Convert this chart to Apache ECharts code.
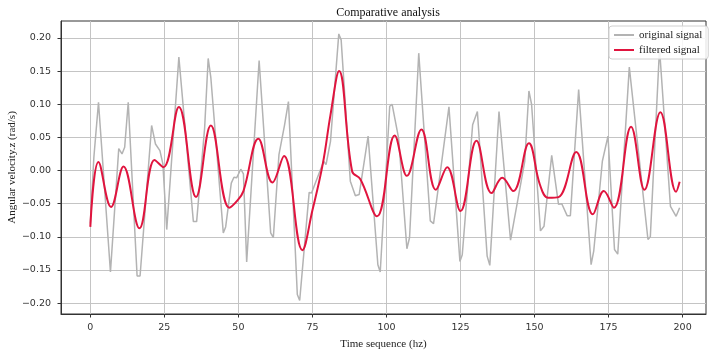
<!DOCTYPE html>
<html>
<head>
<meta charset="utf-8">
<script src="https://cdn.jsdelivr.net/npm/echarts@6/dist/echarts.min.js"></script>
<style>
html,body{margin:0;padding:0;background:#fff;}
#chart{width:714px;height:352px;}
</style>
</head>
<body>
<div id="chart"></div>
<script>
// Tick labels
const xTicks = [0, 25, 50, 75, 100, 125, 150, 175, 200];
const yTicks = [-0.20, -0.15, -0.10, -0.05, 0.00, 0.05, 0.10, 0.15, 0.20];

// Original signal (vertices)
const originalX = [0, 1.2, 2.76, 6.8, 9.6, 10.7, 11.6, 12.8, 15.8, 16.8, 20.7, 22.0, 23.5, 24.5, 25.8, 29.9, 34.8, 35.9, 38.6, 39.8, 40.7, 44.9, 45.7, 47.6, 48.5, 49.4, 50.8, 51.7, 52.8, 57.0, 60.9, 61.8, 63.7, 65.6, 66.9, 69.9, 70.7, 73.9, 74.7, 78.8, 79.6, 81.1, 83.9, 84.7, 87.8, 89.5, 90.8, 93.8, 97.1, 97.9, 101.1, 101.9, 104.1, 106.9, 107.8, 110.9, 114.8, 115.9, 121.1, 124.8, 125.6, 129.1, 130.7, 134.0, 134.9, 138.0, 141.9, 146.7, 148.1, 149.0, 152.0, 153.2, 155.8, 158.1, 159.2, 161.0, 162.1, 164.9, 169.1, 170.0, 172.9, 174.8, 177.0, 178.1, 182.0, 188.3, 189.1, 192.2, 195.9, 197.8, 199.0];
const originalY = [-0.080, 0.020, 0.103, -0.153, 0.033, 0.025, 0.035, 0.103, -0.159, -0.159, 0.068, 0.040, 0.030, 0.010, -0.089, 0.171, -0.077, -0.077, 0.064, 0.169, 0.140, -0.094, -0.085, -0.019, -0.010, -0.011, 0.002, -0.005, -0.138, 0.166, -0.094, -0.101, 0.024, 0.069, 0.104, -0.187, -0.196, -0.033, -0.034, 0.014, 0.009, 0.044, 0.206, 0.197, -0.016, -0.038, -0.036, 0.052, -0.142, -0.153, 0.097, 0.100, 0.049, -0.118, -0.101, 0.177, -0.076, -0.080, 0.096, -0.137, -0.127, 0.069, 0.089, -0.129, -0.143, 0.089, -0.105, 0.014, 0.120, 0.100, -0.091, -0.084, 0.023, -0.051, -0.050, -0.068, -0.068, 0.122, -0.142, -0.121, 0.014, 0.052, -0.119, -0.126, 0.156, -0.104, -0.100, 0.184, -0.054, -0.069, -0.056];

// Filtered signal
const filteredX = [0, 2.75, 7.0, 11.2, 16.6, 21.7, 24.7, 29.9, 35.7, 40.7, 46.9, 49.7, 51.7, 56.75, 61.5, 65.4, 71.6, 75, 78.5, 81.1, 84.0, 88.4, 91.2, 96.8, 102.8, 106.9, 111.8, 116.7, 120.5, 125.0, 130.4, 135.5, 139.1, 142.8, 148.1, 151.8, 154.6, 158.1, 164.1, 169.7, 173.4, 176.8, 182.6, 187.1, 192.5, 197.8, 199.0];
const filteredY = [-0.085, 0.013, -0.055, 0.006, -0.087, 0.016, 0.005, 0.096, -0.040, 0.068, -0.056, -0.045, -0.031, 0.048, -0.018, 0.022, -0.120, -0.060, 0.010, 0.084, 0.150, -0.001, -0.013, -0.069, 0.053, -0.008, 0.062, -0.029, 0.005, -0.061, 0.045, -0.034, -0.011, -0.031, 0.041, -0.021, -0.041, -0.040, 0.028, -0.066, -0.031, -0.056, 0.066, -0.029, 0.088, -0.032, -0.017];

const originalData = originalX.map((x, i) => [x, originalY[i]]);
const filteredData = filteredX.map((x, i) => [x, filteredY[i]]);

const serif = '"Liberation Serif", "DejaVu Serif", serif';
const sans = '"DejaVu Sans", sans-serif';

const chart = echarts.init(document.getElementById('chart'), null, {renderer: 'canvas'});
chart.setOption({
  animation: false,
  backgroundColor: '#fff',
  title: {
    text: 'Comparative analysis',
    left: 383, top: 2, textAlign: 'center',
    textStyle: {fontFamily: serif, fontSize: 12, fontWeight: 'normal', color: '#111'}
  },
  grid: {
    left: 61, right: 8, top: 21, bottom: 38,
    containLabel: false, outerBoundsMode: 'none',
    show: true, borderColor: '#333', borderWidth: 1, backgroundColor: 'transparent'
  },
  legend: {
    left: 609, top: 26, orient: 'vertical',
    icon: 'rect', itemWidth: 20, itemHeight: 2, itemGap: 3,
    padding: [3, 6, 3, 5],
    backgroundColor: 'rgba(255,255,255,0.85)',
    borderColor: '#d0d0d0', borderWidth: 1, borderRadius: 3,
    textStyle: {fontFamily: serif, fontSize: 11, color: '#222', lineHeight: 12},
    data: ['original signal', 'filtered signal']
  },
  xAxis: {
    type: 'value', min: -9.9, max: 207.9,
    name: 'Time sequence (hz)', nameLocation: 'middle', nameGap: 25, nameMoveOverlap: false,
    nameTextStyle: {fontFamily: serif, fontSize: 11, color: '#222'},
    axisLine: {show: true, onZero: false, lineStyle: {color: '#333', width: 1}},
    axisTick: {show: true, length: 3.5, customValues: xTicks, lineStyle: {color: '#333'}},
    axisLabel: {customValues: xTicks, fontFamily: sans, fontSize: 9.5, color: '#333', margin: 9},
    splitLine: {show: true, lineStyle: {color: '#c4c4c4', width: 1}}
  },
  yAxis: {
    type: 'value', min: -0.2163, max: 0.2255,
    name: 'Angular velocity.z (rad/s)', nameLocation: 'middle', nameGap: 43, nameMoveOverlap: false,
    nameTextStyle: {fontFamily: serif, fontSize: 11, color: '#222'},
    axisLine: {show: true, onZero: false, lineStyle: {color: '#333', width: 1}},
    axisTick: {show: true, length: 3.5, customValues: yTicks, lineStyle: {color: '#333'}},
    axisLabel: {
      customValues: yTicks, fontFamily: sans, fontSize: 9.5, color: '#333', margin: 10,
      formatter: v => (v < -1e-9 ? '\u2212' : '') + Math.abs(v).toFixed(2)
    },
    splitLine: {show: true, lineStyle: {color: '#c4c4c4', width: 1}}
  },
  series: [
    {
      name: 'original signal', type: 'line', data: originalData,
      showSymbol: false, symbol: 'none',
      lineStyle: {color: '#b3b3b3', width: 1.5},
      itemStyle: {color: '#b3b3b3'}, z: 2
    },
    {
      name: 'filtered signal', type: 'line', data: filteredData,
      showSymbol: false, symbol: 'none', smooth: 0.4,
      lineStyle: {color: '#e0143e', width: 2},
      itemStyle: {color: '#e0143e'}, z: 3
    }
  ]
});
</script>
</body>
</html>
